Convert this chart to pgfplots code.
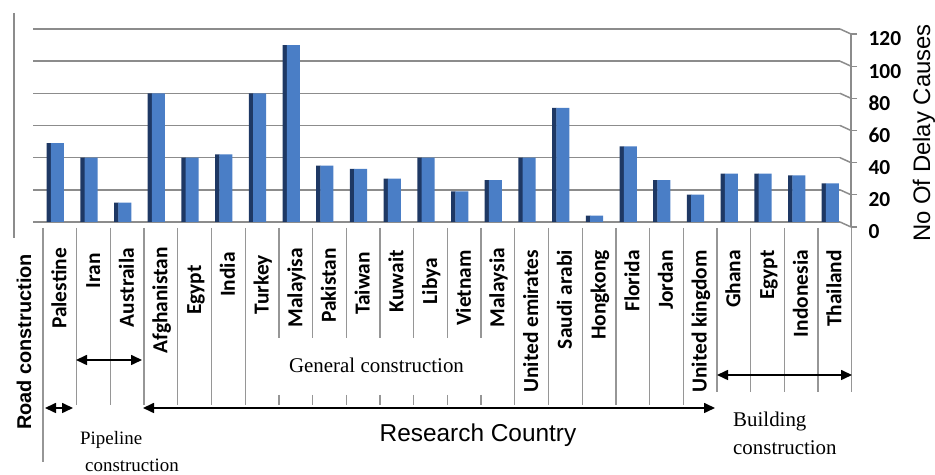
\documentclass[border=0pt]{standalone}
\usepackage{pgfplots}
\pgfplotsset{compat=1.18}
\usepackage{pgfplotstable}
\usepackage{fontspec}
\usetikzlibrary{arrows.meta}
\newfontfamily\carlito{Carlito}
\newfontfamily\arialf{Liberation Sans}
\newfontfamily\tnr{Liberation Serif}
\definecolor{barfront}{RGB}{74,126,198}
\definecolor{barside}{RGB}{30,56,100}
\definecolor{gridc}{RGB}{140,140,140}
\definecolor{tablec}{RGB}{150,150,150}
\pgfplotstableread{
x y
0 49
1 40
2 12
3 80
4 40
5 42
6 80
7 110
8 35
9 33
10 27
11 40
12 19
13 26
14 40
15 71
16 4
17 47
18 26
19 17
20 30
21 30
22 29
23 24
}\delaydata
\begin{document}
\begin{tikzpicture}[x=1bp,y=1bp]
\useasboundingbox (0,0) rectangle (935,475);
\begin{axis}[
  at={(33bp,253bp)}, anchor=south west,
  width=807bp, height=193bp, scale only axis,
  xmin=-0.797, xmax=23.15, ymin=0, ymax=120,
  axis x line=none,
  axis y line*=right,
  ytick={0,20,...,120},
  ymajorgrids,
  grid style={gridc, line width=1.5bp},
  y axis line style={gridc, line width=1.3bp, xshift=11bp, yshift=-5bp},
  ytick style={gridc, line width=1.3bp, xshift=11bp, yshift=-5bp},
  tick align=outside,
  major tick length=6bp,
  /pgf/number format/assume math mode=true,
  yticklabel style={font=\carlito\bfseries\fontsize{21.5}{21.5}\selectfont, text=black, xshift=19bp, yshift=-10bp},
  clip=false,
]
\addplot[ybar, bar width=4.5bp, bar shift=-11bp, fill=barside, draw=none] table[x=x,y=y] {\delaydata};
\addplot[ybar, bar width=13bp, bar shift=-2.5bp, fill=barfront, draw=none] table[x=x,y=y] {\delaydata};
\end{axis}
% bends of the grid lines towards the front axis
\foreach \v in {0,20,...,120} {
  \draw[gridc, line width=1.5bp] (840,{253+1.6083*\v}) -- (851,{248+1.6083*\v});
}
% left frame line
\draw[gridc, line width=1.2bp] (14,462) -- (14,237);
% table lines
\draw[tablec, line width=1.3bp] (43,247) -- (43,13);
\foreach \k in {1,...,6,14,15,...,19} {
  \draw[tablec, line width=1.3bp] ({43+33.7*\k},247) -- ({43+33.7*\k},70);
}
\foreach \k in {7,...,13} {
  \draw[tablec, line width=1.3bp] ({43+33.7*\k},247) -- ({43+33.7*\k},137);
  \draw[tablec, line width=1.3bp] ({43+33.7*\k},80) -- ({43+33.7*\k},70);
}
\foreach \k in {20,...,24} {
  \draw[tablec, line width=1.3bp] ({43+33.7*\k},247) -- ({43+33.7*\k},83);
}
% country labels
\foreach \i/\name/\top in {0/Palestine/248,1/Iran/253,2/Austraila/248,3/Afghanistan/247,4/Egypt/265,5/India/252,6/Turkey/255,7/Malayisa/248,8/Pakistan/248,9/Taiwan/252,10/Kuwait/250,11/Libya/258,12/Vietnam/250,13/Malaysia/248,14/United emirates/250,15/Saudi arabi/250,16/Hongkong/250,17/Florida/250,18/Jordan/250,19/United kingdom/250,20/Ghana/250,21/Egypt/250,22/Indonesia/250,23/Thailand/250} {
  \node[rotate=90, anchor=base east, inner sep=0pt, font=\carlito\bfseries\fontsize{21.5}{21.5}\selectfont] at ({43+33.7*(\i+0.5)+6.5},{475-\top}) {\name};
}
% arrows
\begin{scope}[line width=1.6bp, {Triangle[length=11bp,width=10bp]}-{Triangle[length=11bp,width=10bp]}]
\draw (45,67) -- (73,67);
\draw (76,115) -- (142,115);
\draw (143,67) -- (715,67);
\draw (717,100) -- (852,100);
\end{scope}
% texts
\node[rotate=90, font=\arialf\bfseries\fontsize{20}{20}\selectfont] at (24,133) {Road construction};
\node[font=\arialf\fontsize{24.5}{24.5}\selectfont] at (478,40) {Research Country};
\node[font=\tnr\fontsize{21}{21}\selectfont] at (376.5,110) {General construction};
\node[anchor=west, inner sep=0pt, font=\tnr\fontsize{19}{19}\selectfont] at (80,35) {Pipeline};
\node[anchor=west, inner sep=0pt, font=\tnr\fontsize{19}{19}\selectfont] at (85,10) {construction};
\node[anchor=west, inner sep=0pt, font=\tnr\fontsize{21}{21}\selectfont] at (733,53) {Building};
\node[anchor=west, inner sep=0pt, font=\tnr\fontsize{21}{21}\selectfont] at (733,27) {construction};
\node[rotate=90, anchor=base, inner sep=0pt, font=\arialf\fontsize{24}{24}\selectfont] at (930,342) {No Of Delay Causes};
\end{tikzpicture}
\end{document}
